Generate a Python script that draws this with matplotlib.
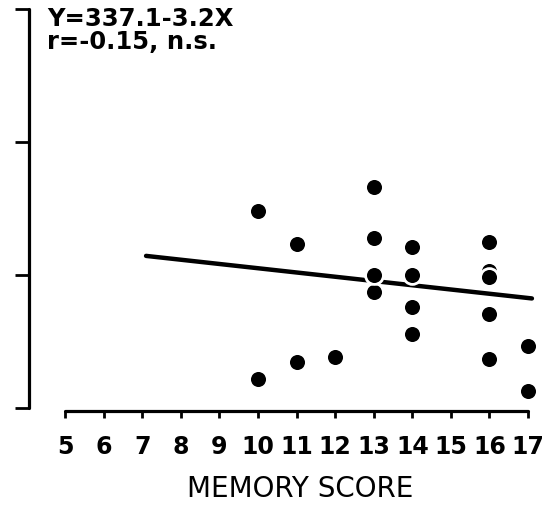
import matplotlib
matplotlib.use("Agg")
import matplotlib.pyplot as plt

# memory score vs. outcome, one dot per subject
memory = [10, 10, 11, 11, 12, 13, 13, 13, 13, 14, 14, 14, 14, 16, 16, 16, 16, 16, 17, 17]
outcome = [348.1, 221.8, 323.1, 234.8, 238.6, 366.4, 327.6, 287.4, 299.8, 321.3, 299.8,
           276.2, 255.4, 325.0, 303.0, 298.7, 270.5, 236.6, 246.6, 213.0]

x_ticks = list(range(5, 18))
x_tick_labels = [str(t) for t in x_ticks]
y_ticks = [200, 300, 400, 500]

# regression fit Y = a + bX
intercept = 337.1
slope = -3.2
fit_range = [7.1, 17.1]
fit_text = "Y=337.1-3.2X\nr=-0.15, n.s."

fig = plt.figure(figsize=(5.52, 5.08), dpi=100)
ax = fig.add_axes([0, 0, 1, 1])
ax.set_xlim(3.315, 17.62)
ax.set_ylim(124.8, 506.8)

fit_y = [intercept + slope * x for x in fit_range]
ax.plot(fit_range, fit_y, color="black", lw=3.2, solid_capstyle="round", zorder=2)
ax.scatter(memory, outcome, s=165, color="black", edgecolors="white", linewidths=2.0, zorder=3)

for side in ["top", "right"]:
    ax.spines[side].set_visible(False)
ax.spines["left"].set_position(("data", 4.07))
ax.spines["left"].set_bounds(200, 500)
ax.spines["bottom"].set_position(("data", 197.5))
ax.spines["bottom"].set_bounds(5, 17)
for side in ["left", "bottom"]:
    ax.spines[side].set_linewidth(2.3)
    ax.spines[side].set_capstyle("round")

ax.set_xticks(x_ticks)
ax.set_xticklabels(x_tick_labels, fontsize=17, fontweight="bold")
ax.set_yticks(y_ticks)
ax.set_yticklabels([])
ax.tick_params(axis="x", direction="out", length=5, width=2, pad=12)
ax.tick_params(axis="y", direction="out", length=10, width=2)

ax.text(300 / 552, 1 - 497 / 508, "MEMORY SCORE", transform=ax.transAxes,
        ha="center", va="baseline", fontsize=20)
ax.text(47 / 552, 1 - 7 / 508, fit_text, transform=ax.transAxes,
        ha="left", va="top", fontsize=17.5, fontweight="bold", linespacing=0.95)

fig.savefig("out.png", dpi=100)
